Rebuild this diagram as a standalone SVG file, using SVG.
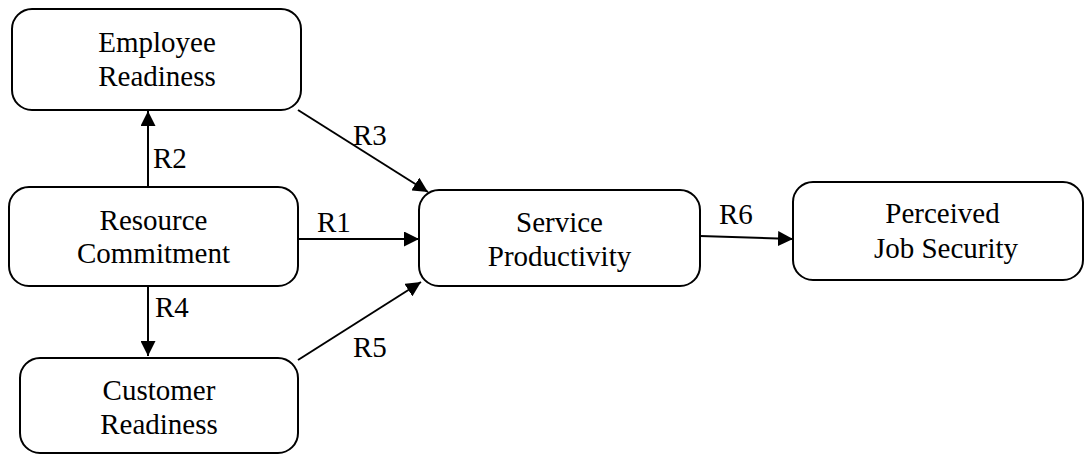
<svg xmlns="http://www.w3.org/2000/svg" width="1085" height="454" viewBox="0 0 1085 454" font-family="'Liberation Serif', 'Times New Roman', serif">
<style>
.box{fill:#fff;stroke:#000;stroke-width:2}
text{font-family:'Liberation Serif','Times New Roman',serif;font-size:29px;fill:#000}
.m{text-anchor:middle}
.c{stroke:#000;stroke-width:2;fill:none;marker-end:url(#ah)}
</style>
<defs>
<marker id="ah" markerWidth="15" markerHeight="15" refX="15" refY="7.5" orient="auto" markerUnits="userSpaceOnUse">
<path d="M0,0 L15,7.5 L0,15 Z" fill="#000"/>
</marker>
</defs>
<rect width="1085" height="454" fill="#fff"/>
<g id="connectors">
<line class="c" x1="148" y1="187" x2="148" y2="111"/>
<line class="c" x1="298" y1="110" x2="428" y2="192"/>
<line class="c" x1="298" y1="239" x2="419" y2="239"/>
<line class="c" x1="148" y1="286" x2="148" y2="356"/>
<line class="c" x1="298" y1="360" x2="421" y2="282"/>
<line class="c" x1="700" y1="236" x2="793" y2="239"/>
<text x="153" y="168">R2</text>
<text x="353" y="145">R3</text>
<text x="317" y="232">R1</text>
<text x="155" y="317">R4</text>
<text x="353" y="357">R5</text>
<text x="719" y="224">R6</text>
</g>
<g id="employee-readiness">
<rect class="box" x="12" y="9" width="289" height="101" rx="20"/>
<text class="m" x="157" y="52">Employee</text>
<text class="m" x="157" y="86">Readiness</text>
</g>
<g id="resource-commitment">
<rect class="box" x="9" y="187" width="289" height="99" rx="20"/>
<text class="m" x="153.5" y="230">Resource</text>
<text class="m" x="153.5" y="263">Commitment</text>
</g>
<g id="customer-readiness">
<rect class="box" x="20" y="358" width="278" height="95" rx="20"/>
<text class="m" x="159" y="400">Customer</text>
<text class="m" x="159" y="434">Readiness</text>
</g>
<g id="service-productivity">
<rect class="box" x="419" y="190" width="281" height="96" rx="20"/>
<text class="m" x="559.5" y="232">Service</text>
<text class="m" x="559.5" y="266">Productivity</text>
</g>
<g id="perceived-job-security">
<rect class="box" x="793" y="182" width="290" height="98" rx="20"/>
<text class="m" x="942.5" y="223">Perceived</text>
<text class="m" x="946" y="258">Job Security</text>
</g>
</svg>
